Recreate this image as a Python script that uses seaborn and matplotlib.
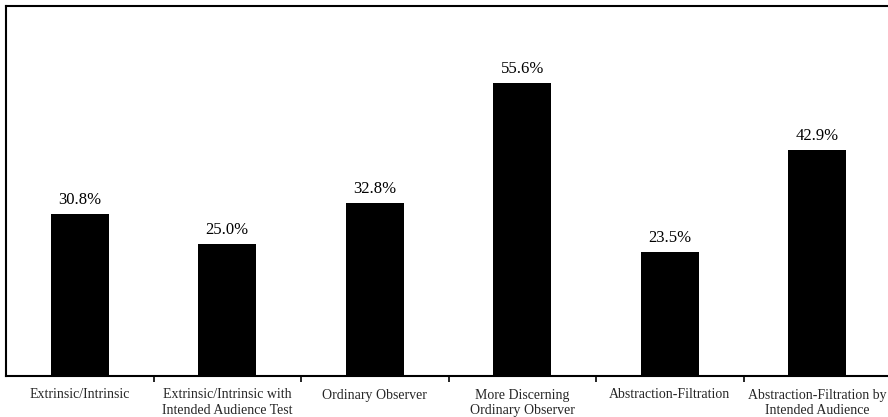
import matplotlib
matplotlib.use("Agg")
import matplotlib.pyplot as plt
import seaborn as sns
import pandas as pd
from matplotlib.ticker import FixedLocator

categories = [
    "Extrinsic/Intrinsic",
    "Extrinsic/Intrinsic with\nIntended Audience Test",
    "Ordinary Observer",
    "More Discerning\nOrdinary Observer",
    "Abstraction-Filtration",
    "Abstraction-Filtration by\nIntended Audience",
]
values = [30.8, 25.0, 32.8, 55.6, 23.5, 42.9]
value_labels = ["30.8%", "25.0%", "32.8%", "55.6%", "23.5%", "42.9%"]

sns.set_theme(style="white")
plt.rcParams["font.family"] = ["Liberation Serif", "DejaVu Serif"]

df = pd.DataFrame({"test": categories, "pct": values})

fig = plt.figure(figsize=(8.88, 4.17), dpi=100)
ax = fig.add_axes([6 / 888, 41 / 417, 885 / 888, 370 / 417])

sns.barplot(data=df, x="test", y="pct", color="black", width=0.395,
            saturation=1, ax=ax, edgecolor="black", linewidth=0)

ax.set_ylim(0, 70.2)
ax.set_xlim(-0.5, len(categories) - 0.5)

for i, (v, lab) in enumerate(zip(values, value_labels)):
    ax.text(i, v + 1.1, lab, ha="center", va="bottom", fontsize=12,
            color="black")

ax.set_xlabel("")
ax.set_ylabel("")
ax.set_yticks([])
ax.set_xticks(range(len(categories)))
ax.set_xticklabels(categories, fontsize=10, linespacing=1.25)
ax.tick_params(axis="x", which="major", length=0, pad=9)
ax.xaxis.set_minor_locator(FixedLocator([i + 0.5 for i in range(len(categories) - 1)]))
ax.tick_params(axis="x", which="minor", bottom=True, length=4, width=1.2,
               color="black", direction="out")

for side in ["left", "top", "bottom", "right"]:
    ax.spines[side].set_visible(True)
    ax.spines[side].set_color("black")
    ax.spines[side].set_linewidth(1.5)

fig.savefig("out.png", dpi=100, facecolor="white")
